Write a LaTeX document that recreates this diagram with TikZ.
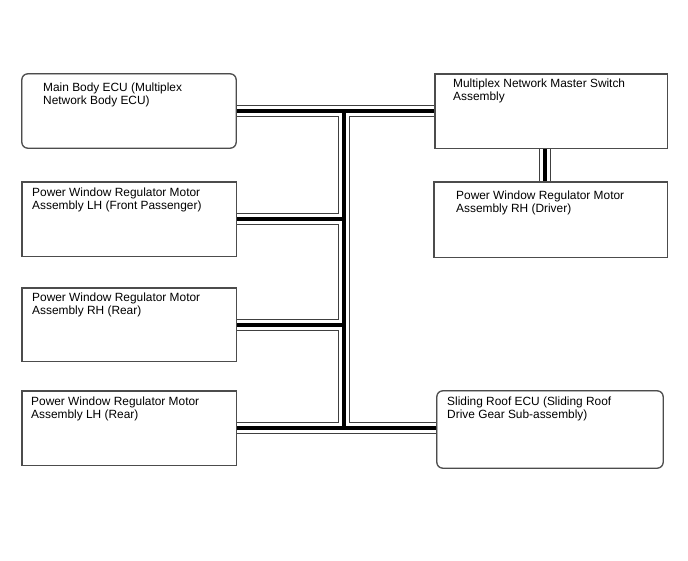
\documentclass[tikz,border=0pt]{standalone}
\usepackage{fontspec}
\setmainfont{Liberation Sans}
\begin{document}
\begin{tikzpicture}[x=1pt,y=-1pt,
  box/.style={draw=black!70, line width=0.8pt, inner sep=0pt, fill=none},
  rbox/.style={box, rounded corners=6pt},
  lbl/.style={anchor=north west, inner sep=0pt, align=left,
              font=\fontsize{11.9}{13}\selectfont},
  busouter/.style={draw=black!75, line width=12pt, line cap=butt},
  busgap/.style={draw=white, line width=10pt, line cap=butt},
  businner/.style={draw=black, line width=4pt, line cap=butt}]
\useasboundingbox (0,0) rectangle (688,560);
% boxes
\node[rbox, minimum width=214pt, minimum height=74pt] (b1) at (129,111) {};
\node[box,  minimum width=232pt, minimum height=74pt] (b2) at (551,111) {};
\node[box,  minimum width=214pt, minimum height=74pt] (b3) at (129,219) {};
\node[box,  minimum width=233pt, minimum height=75pt] (b4) at (550.5,219.5) {};
\node[box,  minimum width=214pt, minimum height=73pt] (b5) at (129,324.5) {};
\node[box,  minimum width=214pt, minimum height=74pt] (b6) at (129,428) {};
\node[rbox, minimum width=226pt, minimum height=77pt] (b7) at (550,429.5) {};
% labels
\node[lbl] (t1) at (43,82.5) {Main Body ECU (Multiplex\\Network Body ECU)};
\node[lbl] (t2) at (453,78.5) {Multiplex Network Master Switch\\Assembly};
\node[lbl] (t3) at (32,187.5) {Power Window Regulator Motor\\Assembly LH (Front Passenger)};
\node[lbl] (t4) at (456,190.5) {Power Window Regulator Motor\\Assembly RH (Driver)};
\node[lbl] (t5) at (32,292.5) {Power Window Regulator Motor\\Assembly RH (Rear)};
\node[lbl] (t6) at (31,396.5) {Power Window Regulator Motor\\Assembly LH (Rear)};
\node[lbl] (t7) at (447,396.5) {Sliding Roof ECU (Sliding Roof\\Drive Gear Sub-assembly)};
% bus coordinates
\coordinate (tr) at (344,0);
\coordinate (lk) at (545,0);
\coordinate (bb) at (0,427.5);
% bus lines, drawn in three layers
\foreach \st in {busouter,busgap,businner}{
  \path[\st] (b1.east) -- (b2.west)
    (b1.east -| tr) -- (bb -| tr)
    (b3.east) -- (b3.east -| tr)
    (b5.east) -- (b5.east -| tr)
    (bb -| b6.east) -- (bb -| b7.west)
    (b2.south -| lk) -- (b4.north -| lk);
}
% redraw box borders on top of bus ends
\draw[black!70, line width=0.8pt, rounded corners=6pt] (b1.north west) rectangle (b1.south east);
\draw[black!70, line width=0.8pt] (b2.north west) rectangle (b2.south east);
\draw[black!70, line width=0.8pt] (b3.north west) rectangle (b3.south east);
\draw[black!70, line width=0.8pt] (b4.north west) rectangle (b4.south east);
\draw[black!70, line width=0.8pt] (b5.north west) rectangle (b5.south east);
\draw[black!70, line width=0.8pt] (b6.north west) rectangle (b6.south east);
\draw[black!70, line width=0.8pt, rounded corners=6pt] (b7.north west) rectangle (b7.south east);
\end{tikzpicture}
\end{document}
